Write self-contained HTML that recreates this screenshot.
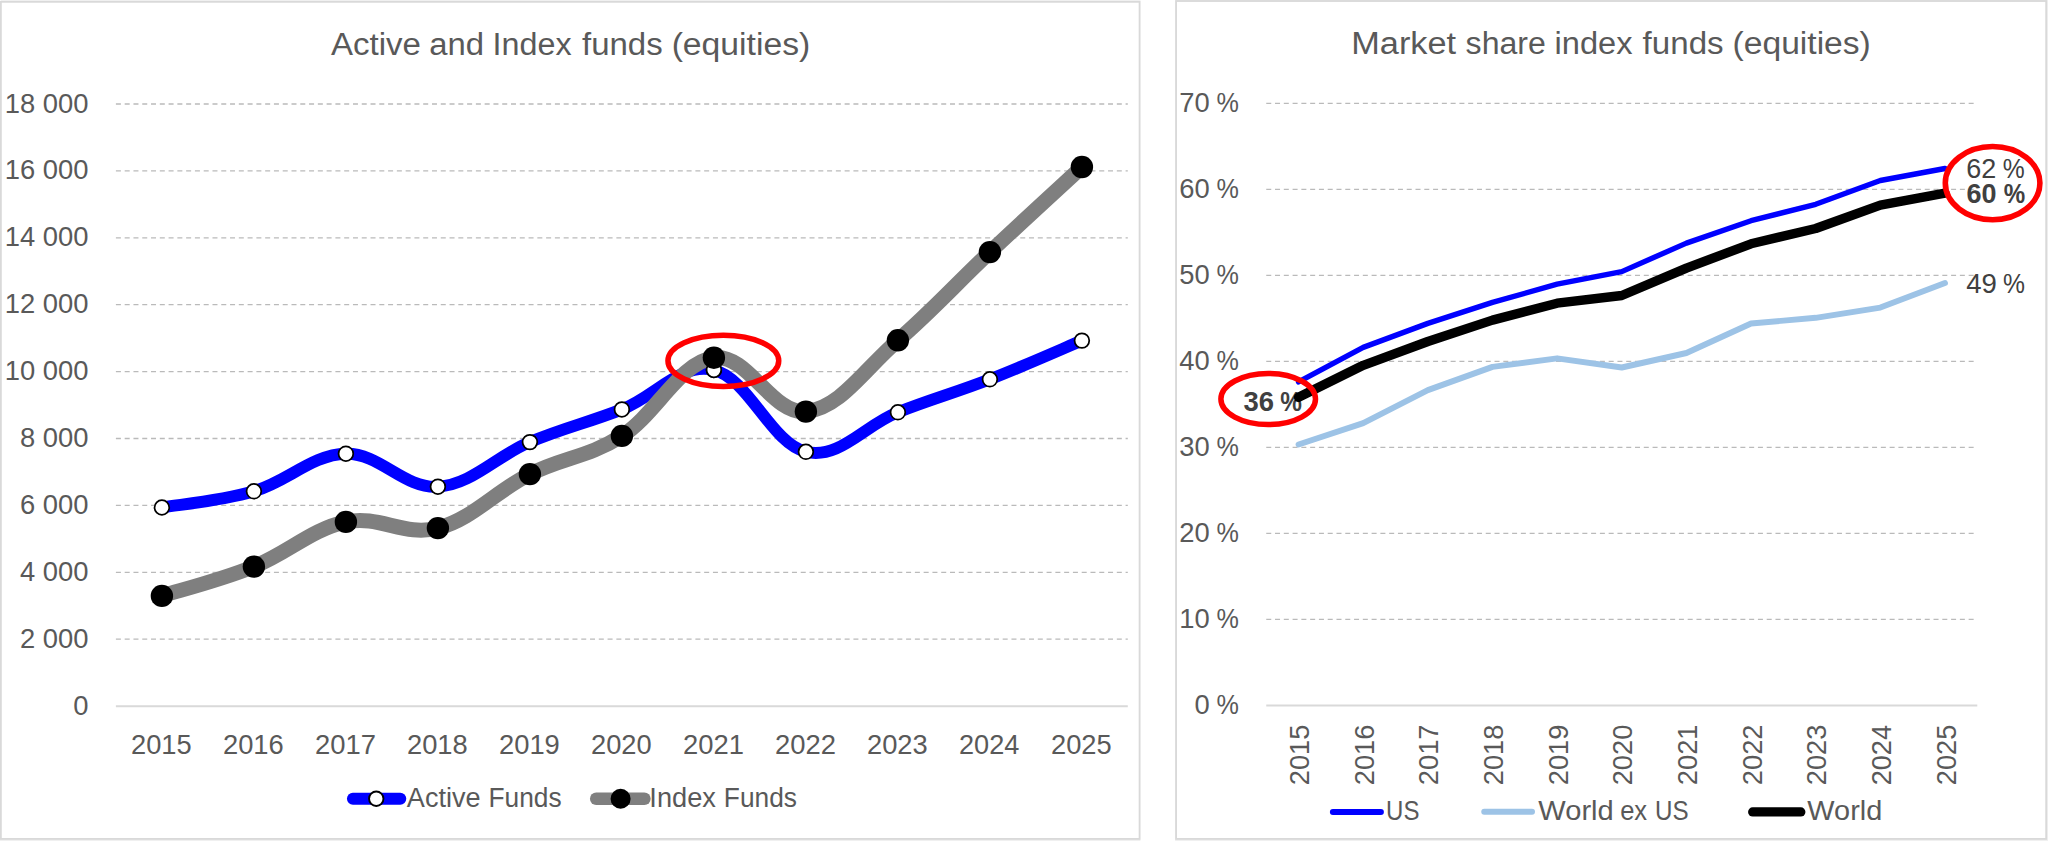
<!DOCTYPE html>
<html lang="en">
<head>
<meta charset="utf-8">
<title>Active and Index funds (equities) / Market share index funds (equities)</title>
<style>
html,body{margin:0;padding:0;background:#ffffff;}
body{width:2048px;height:841px;overflow:hidden;}
svg{display:block;font-family:"Liberation Sans",sans-serif;}
</style>
</head>
<body>
<svg width="2048" height="841" viewBox="0 0 2048 841">
<rect x="0" y="0" width="2048" height="841" fill="#ffffff"/>
<g id="chart-left">
<rect x="0" y="839.9" width="1140.4" height="1.1" fill="#f0f0f0"/>
<rect x="1" y="0" width="1139.4" height="0.9" fill="#f3f3f3"/>
<rect x="0.85" y="1.8" width="1138.75" height="837.15" fill="#ffffff" stroke="#d9d9d9" stroke-width="1.85"/>
<line x1="115.9" y1="639.20" x2="1127.8" y2="639.20" stroke="#bababa" stroke-width="1.3" stroke-dasharray="5 3.78"/>
<line x1="115.9" y1="572.30" x2="1127.8" y2="572.30" stroke="#bababa" stroke-width="1.3" stroke-dasharray="5 3.78"/>
<line x1="115.9" y1="505.40" x2="1127.8" y2="505.40" stroke="#bababa" stroke-width="1.3" stroke-dasharray="5 3.78"/>
<line x1="115.9" y1="438.50" x2="1127.8" y2="438.50" stroke="#bababa" stroke-width="1.3" stroke-dasharray="5 3.78"/>
<line x1="115.9" y1="371.60" x2="1127.8" y2="371.60" stroke="#bababa" stroke-width="1.3" stroke-dasharray="5 3.78"/>
<line x1="115.9" y1="304.70" x2="1127.8" y2="304.70" stroke="#bababa" stroke-width="1.3" stroke-dasharray="5 3.78"/>
<line x1="115.9" y1="237.80" x2="1127.8" y2="237.80" stroke="#bababa" stroke-width="1.3" stroke-dasharray="5 3.78"/>
<line x1="115.9" y1="170.90" x2="1127.8" y2="170.90" stroke="#bababa" stroke-width="1.3" stroke-dasharray="5 3.78"/>
<line x1="115.9" y1="104.00" x2="1127.8" y2="104.00" stroke="#bababa" stroke-width="1.3" stroke-dasharray="5 3.78"/>
<line x1="115.9" y1="706.25" x2="1127.8" y2="706.25" stroke="#d9d9d9" stroke-width="1.9"/>
<text y="54.75" font-size="31" fill="#595959"><tspan x="330.94" textLength="89.93" lengthAdjust="spacingAndGlyphs">Active</tspan> <tspan x="429.20" textLength="54.81" lengthAdjust="spacingAndGlyphs">and</tspan> <tspan x="492.62" textLength="78.98" lengthAdjust="spacingAndGlyphs">Index</tspan> <tspan x="582.03" textLength="80.66" lengthAdjust="spacingAndGlyphs">funds</tspan> <tspan x="671.66" textLength="138.53" lengthAdjust="spacingAndGlyphs">(equities)</tspan></text>
<text y="714.65" font-size="27" fill="#595959"><tspan x="73.24" textLength="15.23" lengthAdjust="spacingAndGlyphs">0</tspan></text>
<text y="647.75" font-size="27" fill="#595959"><tspan x="19.96" textLength="68.51" lengthAdjust="spacingAndGlyphs">2 000</tspan></text>
<text y="580.85" font-size="27" fill="#595959"><tspan x="19.96" textLength="68.51" lengthAdjust="spacingAndGlyphs">4 000</tspan></text>
<text y="513.95" font-size="27" fill="#595959"><tspan x="19.96" textLength="68.51" lengthAdjust="spacingAndGlyphs">6 000</tspan></text>
<text y="447.05" font-size="27" fill="#595959"><tspan x="19.96" textLength="68.51" lengthAdjust="spacingAndGlyphs">8 000</tspan></text>
<text y="380.15" font-size="27" fill="#595959"><tspan x="4.73" textLength="83.74" lengthAdjust="spacingAndGlyphs">10 000</tspan></text>
<text y="313.25" font-size="27" fill="#595959"><tspan x="4.73" textLength="83.74" lengthAdjust="spacingAndGlyphs">12 000</tspan></text>
<text y="246.35" font-size="27" fill="#595959"><tspan x="4.73" textLength="83.74" lengthAdjust="spacingAndGlyphs">14 000</tspan></text>
<text y="179.45" font-size="27" fill="#595959"><tspan x="4.73" textLength="83.74" lengthAdjust="spacingAndGlyphs">16 000</tspan></text>
<text y="112.55" font-size="27" fill="#595959"><tspan x="4.73" textLength="83.74" lengthAdjust="spacingAndGlyphs">18 000</tspan></text>
<text y="753.70" font-size="27" fill="#595959"><tspan x="130.98" textLength="60.72" lengthAdjust="spacingAndGlyphs">2015</tspan></text>
<text y="753.70" font-size="27" fill="#595959"><tspan x="222.98" textLength="60.77" lengthAdjust="spacingAndGlyphs">2016</tspan></text>
<text y="753.70" font-size="27" fill="#595959"><tspan x="314.97" textLength="60.96" lengthAdjust="spacingAndGlyphs">2017</tspan></text>
<text y="753.70" font-size="27" fill="#595959"><tspan x="406.98" textLength="60.76" lengthAdjust="spacingAndGlyphs">2018</tspan></text>
<text y="753.70" font-size="27" fill="#595959"><tspan x="498.97" textLength="60.87" lengthAdjust="spacingAndGlyphs">2019</tspan></text>
<text y="753.70" font-size="27" fill="#595959"><tspan x="590.98" textLength="60.64" lengthAdjust="spacingAndGlyphs">2020</tspan></text>
<text y="753.70" font-size="27" fill="#595959"><tspan x="682.97" textLength="60.91" lengthAdjust="spacingAndGlyphs">2021</tspan></text>
<text y="753.70" font-size="27" fill="#595959"><tspan x="774.97" textLength="60.96" lengthAdjust="spacingAndGlyphs">2022</tspan></text>
<text y="753.70" font-size="27" fill="#595959"><tspan x="866.98" textLength="60.77" lengthAdjust="spacingAndGlyphs">2023</tspan></text>
<text y="753.70" font-size="27" fill="#595959"><tspan x="958.99" textLength="60.36" lengthAdjust="spacingAndGlyphs">2024</tspan></text>
<text y="753.70" font-size="27" fill="#595959"><tspan x="1050.98" textLength="60.72" lengthAdjust="spacingAndGlyphs">2025</tspan></text>
<path d="M161.90 507.50 C178.92 504.50 219.86 501.25 253.90 491.30 C287.94 481.35 311.86 454.55 345.90 453.70 C379.94 452.85 403.86 488.85 437.90 486.70 C471.94 484.55 495.86 456.40 529.90 442.10 C563.94 427.80 587.86 422.74 621.90 409.40 C655.94 396.06 679.86 362.16 713.90 370.00 C747.94 377.84 771.86 443.97 805.90 451.80 C839.94 459.63 863.86 425.71 897.90 412.30 C931.94 398.89 955.86 392.56 989.90 379.30 C1023.94 366.04 1064.88 347.76 1081.90 340.60" fill="none" stroke="#0000ff" stroke-width="11.9" stroke-linecap="round" stroke-linejoin="round"/>
<circle cx="161.90" cy="507.50" r="7.35" fill="#ffffff" stroke="#000000" stroke-width="1.75"/>
<circle cx="253.90" cy="491.30" r="7.35" fill="#ffffff" stroke="#000000" stroke-width="1.75"/>
<circle cx="345.90" cy="453.70" r="7.35" fill="#ffffff" stroke="#000000" stroke-width="1.75"/>
<circle cx="437.90" cy="486.70" r="7.35" fill="#ffffff" stroke="#000000" stroke-width="1.75"/>
<circle cx="529.90" cy="442.10" r="7.35" fill="#ffffff" stroke="#000000" stroke-width="1.75"/>
<circle cx="621.90" cy="409.40" r="7.35" fill="#ffffff" stroke="#000000" stroke-width="1.75"/>
<circle cx="713.90" cy="370.00" r="7.35" fill="#ffffff" stroke="#000000" stroke-width="1.75"/>
<circle cx="805.90" cy="451.80" r="7.35" fill="#ffffff" stroke="#000000" stroke-width="1.75"/>
<circle cx="897.90" cy="412.30" r="7.35" fill="#ffffff" stroke="#000000" stroke-width="1.75"/>
<circle cx="989.90" cy="379.30" r="7.35" fill="#ffffff" stroke="#000000" stroke-width="1.75"/>
<circle cx="1081.90" cy="340.60" r="7.35" fill="#ffffff" stroke="#000000" stroke-width="1.75"/>
<path d="M161.90 595.90 C178.92 590.48 219.86 580.29 253.90 566.60 C287.94 552.91 311.86 529.02 345.90 521.90 C379.94 514.78 403.86 536.94 437.90 528.10 C471.94 519.26 495.86 491.16 529.90 474.10 C563.94 457.04 587.86 457.43 621.90 435.90 C655.94 414.37 679.86 362.20 713.90 357.70 C747.94 353.20 771.86 414.82 805.90 411.60 C839.94 408.38 863.86 369.81 897.90 340.30 C931.94 310.79 955.86 284.16 989.90 252.10 C1023.94 220.04 1064.88 182.74 1081.90 167.00" fill="none" stroke="#7f7f7f" stroke-width="15" stroke-linecap="round" stroke-linejoin="round"/>
<circle cx="713.90" cy="370.00" r="7.35" fill="#ffffff" stroke="#000000" stroke-width="1.75"/>
<circle cx="161.90" cy="595.90" r="11.2" fill="#000000"/>
<circle cx="253.90" cy="566.60" r="11.2" fill="#000000"/>
<circle cx="345.90" cy="521.90" r="11.2" fill="#000000"/>
<circle cx="437.90" cy="528.10" r="11.2" fill="#000000"/>
<circle cx="529.90" cy="474.10" r="11.2" fill="#000000"/>
<circle cx="621.90" cy="435.90" r="11.2" fill="#000000"/>
<circle cx="713.90" cy="357.70" r="11.2" fill="#000000"/>
<circle cx="805.90" cy="411.60" r="11.2" fill="#000000"/>
<circle cx="897.90" cy="340.30" r="11.2" fill="#000000"/>
<circle cx="989.90" cy="252.10" r="11.2" fill="#000000"/>
<circle cx="1081.90" cy="167.00" r="11.2" fill="#000000"/>
<ellipse cx="723.35" cy="360.8" rx="55.4" ry="25.6" fill="none" stroke="#ff0000" stroke-width="5.5"/>
<line x1="352.9" y1="798.8" x2="400.3" y2="798.8" stroke="#0000ff" stroke-width="11.9" stroke-linecap="round"/>
<circle cx="376.25" cy="798.75" r="7.2" fill="#ffffff" stroke="#000000" stroke-width="1.9"/>
<text y="806.90" font-size="27" fill="#595959"><tspan x="406.85" textLength="73.76" lengthAdjust="spacingAndGlyphs">Active</tspan> <tspan x="488.44" textLength="73.11" lengthAdjust="spacingAndGlyphs">Funds</tspan></text>
<line x1="596.2" y1="798.75" x2="644.4" y2="798.75" stroke="#7f7f7f" stroke-width="12.5" stroke-linecap="round"/>
<circle cx="620.6" cy="798.75" r="10" fill="#000000"/>
<text y="807.00" font-size="27" fill="#595959"><tspan x="649.39" textLength="66.50" lengthAdjust="spacingAndGlyphs">Index</tspan> <tspan x="723.84" textLength="73.11" lengthAdjust="spacingAndGlyphs">Funds</tspan></text>
</g>
<g id="chart-right">
<rect x="1175.1" y="839.9" width="872.9" height="1.1" fill="#f0f0f0"/>
<rect x="2047.1" y="0" width="0.9" height="841" fill="#f0f0f0"/>
<rect x="1176.05" y="1.0" width="870.15" height="837.95" fill="#ffffff" stroke="#d9d9d9" stroke-width="1.85"/>
<line x1="1266.25" y1="619.45" x2="1977.3" y2="619.45" stroke="#bababa" stroke-width="1.3" stroke-dasharray="5 3.78"/>
<line x1="1266.25" y1="533.45" x2="1977.3" y2="533.45" stroke="#bababa" stroke-width="1.3" stroke-dasharray="5 3.78"/>
<line x1="1266.25" y1="447.45" x2="1977.3" y2="447.45" stroke="#bababa" stroke-width="1.3" stroke-dasharray="5 3.78"/>
<line x1="1266.25" y1="361.45" x2="1977.3" y2="361.45" stroke="#bababa" stroke-width="1.3" stroke-dasharray="5 3.78"/>
<line x1="1266.25" y1="275.45" x2="1977.3" y2="275.45" stroke="#bababa" stroke-width="1.3" stroke-dasharray="5 3.78"/>
<line x1="1266.25" y1="189.45" x2="1977.3" y2="189.45" stroke="#bababa" stroke-width="1.3" stroke-dasharray="5 3.78"/>
<line x1="1266.25" y1="103.45" x2="1977.3" y2="103.45" stroke="#bababa" stroke-width="1.3" stroke-dasharray="5 3.78"/>
<line x1="1266.25" y1="705.5" x2="1977.3" y2="705.5" stroke="#d9d9d9" stroke-width="1.9"/>
<text y="53.75" font-size="31" fill="#595959"><tspan x="1351.29" textLength="104.87" lengthAdjust="spacingAndGlyphs">Market</tspan> <tspan x="1465.61" textLength="80.22" lengthAdjust="spacingAndGlyphs">share</tspan> <tspan x="1554.52" textLength="77.93" lengthAdjust="spacingAndGlyphs">index</tspan> <tspan x="1642.63" textLength="80.96" lengthAdjust="spacingAndGlyphs">funds</tspan> <tspan x="1732.62" textLength="138.17" lengthAdjust="spacingAndGlyphs">(equities)</tspan></text>
<text y="714.35" font-size="27" fill="#595959"><tspan x="1194.59" textLength="15.23" lengthAdjust="spacingAndGlyphs">0</tspan> <tspan x="1216.60" textLength="22.40" lengthAdjust="spacingAndGlyphs">%</tspan></text>
<text y="628.35" font-size="27" fill="#595959"><tspan x="1179.37" textLength="30.45" lengthAdjust="spacingAndGlyphs">10</tspan> <tspan x="1216.60" textLength="22.40" lengthAdjust="spacingAndGlyphs">%</tspan></text>
<text y="542.35" font-size="27" fill="#595959"><tspan x="1179.37" textLength="30.45" lengthAdjust="spacingAndGlyphs">20</tspan> <tspan x="1216.60" textLength="22.40" lengthAdjust="spacingAndGlyphs">%</tspan></text>
<text y="456.35" font-size="27" fill="#595959"><tspan x="1179.37" textLength="30.45" lengthAdjust="spacingAndGlyphs">30</tspan> <tspan x="1216.60" textLength="22.40" lengthAdjust="spacingAndGlyphs">%</tspan></text>
<text y="370.35" font-size="27" fill="#595959"><tspan x="1179.37" textLength="30.45" lengthAdjust="spacingAndGlyphs">40</tspan> <tspan x="1216.60" textLength="22.40" lengthAdjust="spacingAndGlyphs">%</tspan></text>
<text y="284.35" font-size="27" fill="#595959"><tspan x="1179.37" textLength="30.45" lengthAdjust="spacingAndGlyphs">50</tspan> <tspan x="1216.60" textLength="22.40" lengthAdjust="spacingAndGlyphs">%</tspan></text>
<text y="198.35" font-size="27" fill="#595959"><tspan x="1179.37" textLength="30.45" lengthAdjust="spacingAndGlyphs">60</tspan> <tspan x="1216.60" textLength="22.40" lengthAdjust="spacingAndGlyphs">%</tspan></text>
<text y="112.35" font-size="27" fill="#595959"><tspan x="1179.37" textLength="30.45" lengthAdjust="spacingAndGlyphs">70</tspan> <tspan x="1216.60" textLength="22.40" lengthAdjust="spacingAndGlyphs">%</tspan></text>
<text transform="translate(1309.17 783.90) rotate(-90)" font-size="27" fill="#595959"><tspan x="-1.37" y="0" textLength="60.61" lengthAdjust="spacingAndGlyphs">2015</tspan></text>
<text transform="translate(1373.81 783.90) rotate(-90)" font-size="27" fill="#595959"><tspan x="-1.37" y="0" textLength="60.67" lengthAdjust="spacingAndGlyphs">2016</tspan></text>
<text transform="translate(1438.45 783.90) rotate(-90)" font-size="27" fill="#595959"><tspan x="-1.38" y="0" textLength="60.85" lengthAdjust="spacingAndGlyphs">2017</tspan></text>
<text transform="translate(1503.09 783.90) rotate(-90)" font-size="27" fill="#595959"><tspan x="-1.37" y="0" textLength="60.66" lengthAdjust="spacingAndGlyphs">2018</tspan></text>
<text transform="translate(1567.73 783.90) rotate(-90)" font-size="27" fill="#595959"><tspan x="-1.37" y="0" textLength="60.77" lengthAdjust="spacingAndGlyphs">2019</tspan></text>
<text transform="translate(1632.37 783.90) rotate(-90)" font-size="27" fill="#595959"><tspan x="-1.37" y="0" textLength="60.53" lengthAdjust="spacingAndGlyphs">2020</tspan></text>
<text transform="translate(1697.01 783.90) rotate(-90)" font-size="27" fill="#595959"><tspan x="-1.37" y="0" textLength="60.81" lengthAdjust="spacingAndGlyphs">2021</tspan></text>
<text transform="translate(1761.65 783.90) rotate(-90)" font-size="27" fill="#595959"><tspan x="-1.38" y="0" textLength="60.85" lengthAdjust="spacingAndGlyphs">2022</tspan></text>
<text transform="translate(1826.29 783.90) rotate(-90)" font-size="27" fill="#595959"><tspan x="-1.37" y="0" textLength="60.67" lengthAdjust="spacingAndGlyphs">2023</tspan></text>
<text transform="translate(1890.93 783.90) rotate(-90)" font-size="27" fill="#595959"><tspan x="-1.36" y="0" textLength="60.26" lengthAdjust="spacingAndGlyphs">2024</tspan></text>
<text transform="translate(1955.57 783.90) rotate(-90)" font-size="27" fill="#595959"><tspan x="-1.37" y="0" textLength="60.61" lengthAdjust="spacingAndGlyphs">2025</tspan></text>
<text y="411.00" font-size="27" fill="#404040" font-weight="bold"><tspan x="1243.47" textLength="30.52" lengthAdjust="spacingAndGlyphs">36</tspan> <tspan x="1280.29" textLength="21.65" lengthAdjust="spacingAndGlyphs">%</tspan></text>
<path d="M1298.57 381.90 L1363.21 347.40 L1427.85 323.40 L1492.49 302.40 L1557.13 284.20 L1621.77 271.60 L1686.41 243.10 L1751.05 220.70 L1815.69 204.30 L1880.33 180.50 L1944.97 168.50" fill="none" stroke="#0000ff" stroke-width="5.4" stroke-linecap="round" stroke-linejoin="round"/>
<path d="M1298.57 444.50 L1363.21 423.10 L1427.85 390.10 L1492.49 366.90 L1557.13 358.30 L1621.77 367.50 L1686.41 353.00 L1751.05 323.50 L1815.69 317.80 L1880.33 307.60 L1944.97 283.10" fill="none" stroke="#9dc3e6" stroke-width="5.9" stroke-linecap="round" stroke-linejoin="round"/>
<path d="M1298.57 397.30 L1363.21 365.30 L1427.85 341.50 L1492.49 320.10 L1557.13 303.20 L1621.77 295.50 L1686.41 268.10 L1751.05 243.80 L1815.69 228.50 L1880.33 205.20 L1944.97 193.10" fill="none" stroke="#000000" stroke-width="9.4" stroke-linecap="round" stroke-linejoin="round"/>
<text y="178.40" font-size="27" fill="#404040"><tspan x="1966.13" textLength="30.03" lengthAdjust="spacingAndGlyphs">62</tspan> <tspan x="2002.82" textLength="21.96" lengthAdjust="spacingAndGlyphs">%</tspan></text>
<text y="202.80" font-size="27" fill="#404040" font-weight="bold"><tspan x="1966.51" textLength="29.99" lengthAdjust="spacingAndGlyphs">60</tspan> <tspan x="2003.70" textLength="21.44" lengthAdjust="spacingAndGlyphs">%</tspan></text>
<text y="292.90" font-size="27" fill="#404040"><tspan x="1966.27" textLength="30.69" lengthAdjust="spacingAndGlyphs">49</tspan> <tspan x="2003.12" textLength="21.96" lengthAdjust="spacingAndGlyphs">%</tspan></text>
<ellipse cx="1992.6" cy="183.1" rx="47.3" ry="36.6" fill="none" stroke="#ff0000" stroke-width="5.6"/>
<ellipse cx="1268.2" cy="399.05" rx="47.3" ry="25.55" fill="none" stroke="#ff0000" stroke-width="5.5"/>
<line x1="1332.9" y1="811.9" x2="1380.9" y2="811.9" stroke="#0000ff" stroke-width="6" stroke-linecap="round"/>
<text y="819.90" font-size="27" fill="#595959"><tspan x="1386.05" textLength="33.35" lengthAdjust="spacingAndGlyphs">US</tspan></text>
<line x1="1484.25" y1="811.8" x2="1532" y2="811.8" stroke="#9dc3e6" stroke-width="6" stroke-linecap="round"/>
<text y="820.10" font-size="27" fill="#595959"><tspan x="1538.37" textLength="75.39" lengthAdjust="spacingAndGlyphs">World</tspan> <tspan x="1620.16" textLength="27.01" lengthAdjust="spacingAndGlyphs">ex</tspan> <tspan x="1655.04" textLength="33.57" lengthAdjust="spacingAndGlyphs">US</tspan></text>
<line x1="1752.7" y1="811.9" x2="1800.8" y2="811.9" stroke="#000000" stroke-width="9.25" stroke-linecap="round"/>
<text y="820.10" font-size="27" fill="#595959"><tspan x="1807.37" textLength="74.87" lengthAdjust="spacingAndGlyphs">World</tspan></text>
</g>
</svg>
</body>
</html>
